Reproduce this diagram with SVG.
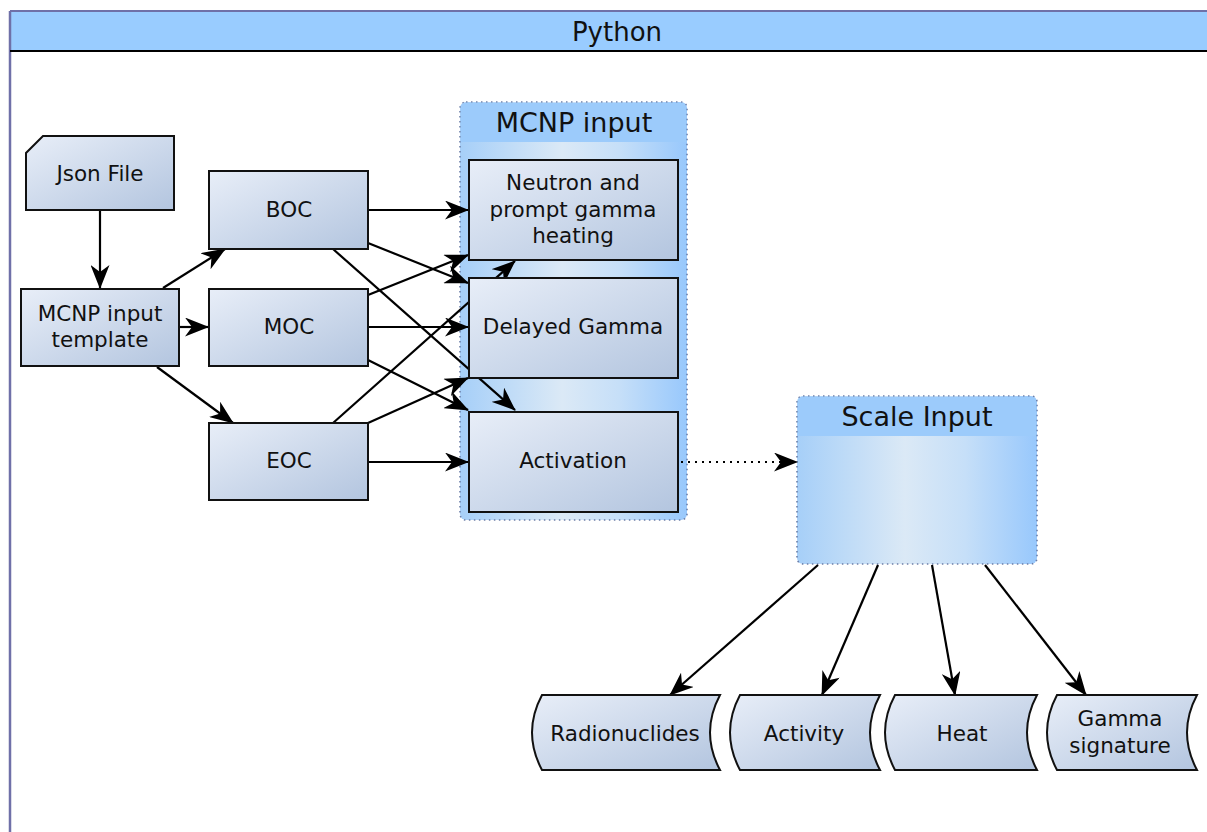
<svg xmlns="http://www.w3.org/2000/svg" width="1207" height="832" viewBox="0 0 1207 832">
<defs>
<linearGradient id="nodeFill" x1="0" y1="0" x2="1" y2="1">
<stop offset="0" stop-color="#e8eef8"/>
<stop offset="1" stop-color="#b3c5df"/>
</linearGradient>
<linearGradient id="grpFill" x1="0" y1="0" x2="1" y2="0">
<stop offset="0" stop-color="#a6cff8"/>
<stop offset="0.45" stop-color="#dbe9f6"/>
<stop offset="0.7" stop-color="#c6dff8"/>
<stop offset="1" stop-color="#98c8fc"/>
</linearGradient>
<marker id="arr" viewBox="0 0 24 19" refX="23" refY="9.5" markerWidth="24" markerHeight="19" markerUnits="userSpaceOnUse" orient="auto">
<path d="M0,0 L24,9.5 L0,19 L7,9.5 Z" fill="#000"/>
</marker>
</defs>
<style>
text{font-family:"DejaVu Sans","Liberation Sans",sans-serif;fill:#111;text-anchor:middle}
.lbl{font-size:21.5px}
.hdr{font-size:27px}
.node{fill:url(#nodeFill);stroke:#111;stroke-width:2}
.grp{fill:url(#grpFill);stroke:#6d7fa8;stroke-width:1.6;stroke-dasharray:1.5 3.5}
.grph{fill:#9ccbfb}
.edge{fill:none;stroke:#000;stroke-width:2.2;marker-end:url(#arr)}
.dot{stroke-dasharray:2 5}
</style>
<rect width="1207" height="832" fill="#fff"/>
<g id="frame">
<rect x="10" y="11" width="1230" height="40" fill="#99ccff"/>
<line x1="10" y1="11" x2="1207" y2="11" stroke="#6f70a8" stroke-width="2"/>
<line x1="10" y1="11" x2="10" y2="832" stroke="#6f70a8" stroke-width="2.5"/>
<line x1="10" y1="51" x2="1207" y2="51" stroke="#000" stroke-width="2"/>
<text x="617" y="41" style="font-size:26px">Python</text>
</g>
<g id="mcnp-input-group">
<rect class="grp" x="460" y="102" width="227" height="418" rx="6"/>
<path class="grph" d="M466,102.8 H681 Q686.2,102.8 686.2,108 V142 H460.8 V108 Q460.8,102.8 466,102.8 Z"/>
<text class="hdr" x="574" y="132">MCNP input</text>
</g>
<g id="scale-input-group">
<rect class="grp" x="797" y="396" width="240" height="168" rx="6"/>
<path class="grph" d="M803,396.8 H1031 Q1036.2,396.8 1036.2,402 V436 H797.8 V402 Q797.8,396.8 803,396.8 Z"/>
<text class="hdr" x="917" y="426">Scale Input</text>
</g>
<g id="connectors">
<line class="edge" x1="100" y1="210" x2="100" y2="288"/>
<line class="edge" x1="163" y1="288" x2="225" y2="249"/>
<line class="edge" x1="179" y1="327" x2="208" y2="327"/>
<line class="edge" x1="157" y1="367" x2="233" y2="423"/>
<line class="edge" x1="368" y1="210" x2="468" y2="210"/>
<line class="edge" x1="368" y1="243" x2="468" y2="283"/>
<line class="edge" x1="333" y1="249" x2="515" y2="410"/>
<line class="edge" x1="368" y1="295" x2="468" y2="255"/>
<line class="edge" x1="368" y1="327" x2="468" y2="327"/>
<line class="edge" x1="368" y1="360" x2="468" y2="410"/>
<line class="edge" x1="333" y1="423" x2="515" y2="261"/>
<line class="edge" x1="368" y1="423" x2="468" y2="378"/>
<line class="edge" x1="368" y1="462" x2="468" y2="462"/>
<line class="edge dot" x1="681" y1="462" x2="797" y2="462"/>
<line class="edge" x1="818" y1="565" x2="670" y2="695"/>
<line class="edge" x1="878" y1="565" x2="822" y2="695"/>
<line class="edge" x1="932" y1="565" x2="955" y2="695"/>
<line class="edge" x1="985" y1="565" x2="1086" y2="695"/>
</g>
<g id="json-file">
<path class="node" d="M43,136 H174 V210 H26 V153 Z"/>
<text class="lbl" x="100" y="181">Json File</text>
</g>
<g id="mcnp-template">
<rect class="node" x="21" y="289" width="158" height="77"/>
<text class="lbl" x="100" y="321">MCNP input</text>
<text class="lbl" x="100" y="347">template</text>
</g>
<g id="boc">
<rect class="node" x="209" y="171" width="159" height="78"/>
<text class="lbl" x="289" y="217">BOC</text>
</g>
<g id="moc">
<rect class="node" x="209" y="289" width="159" height="77"/>
<text class="lbl" x="289" y="334">MOC</text>
</g>
<g id="eoc">
<rect class="node" x="209" y="423" width="159" height="77"/>
<text class="lbl" x="289" y="468">EOC</text>
</g>
<g id="neutron">
<rect class="node" x="469" y="160" width="209" height="100"/>
<text class="lbl" x="573" y="190">Neutron and</text>
<text class="lbl" x="573" y="217">prompt gamma</text>
<text class="lbl" x="573" y="243">heating</text>
</g>
<g id="delayed-gamma">
<rect class="node" x="469" y="278" width="209" height="100"/>
<text class="lbl" x="573" y="334">Delayed Gamma</text>
</g>
<g id="activation">
<rect class="node" x="469" y="412" width="209" height="100"/>
<text class="lbl" x="573" y="468">Activation</text>
</g>
<g id="radionuclides">
<path class="node" d="M542,695 H720 Q700,732.5 720,770 H542 Q522,732.5 542,695 Z"/>
<text class="lbl" x="625" y="741">Radionuclides</text>
</g>
<g id="activity">
<path class="node" d="M740,695 H880 Q860,732.5 880,770 H740 Q720,732.5 740,695 Z"/>
<text class="lbl" x="804" y="741">Activity</text>
</g>
<g id="heat">
<path class="node" d="M895,695 H1037 Q1017,732.5 1037,770 H895 Q875,732.5 895,695 Z"/>
<text class="lbl" x="962" y="741">Heat</text>
</g>
<g id="gamma-signature">
<path class="node" d="M1057,695 H1197 Q1177,732.5 1197,770 H1057 Q1037,732.5 1057,695 Z"/>
<text class="lbl" x="1120" y="726">Gamma</text>
<text class="lbl" x="1120" y="753">signature</text>
</g>
</svg>
